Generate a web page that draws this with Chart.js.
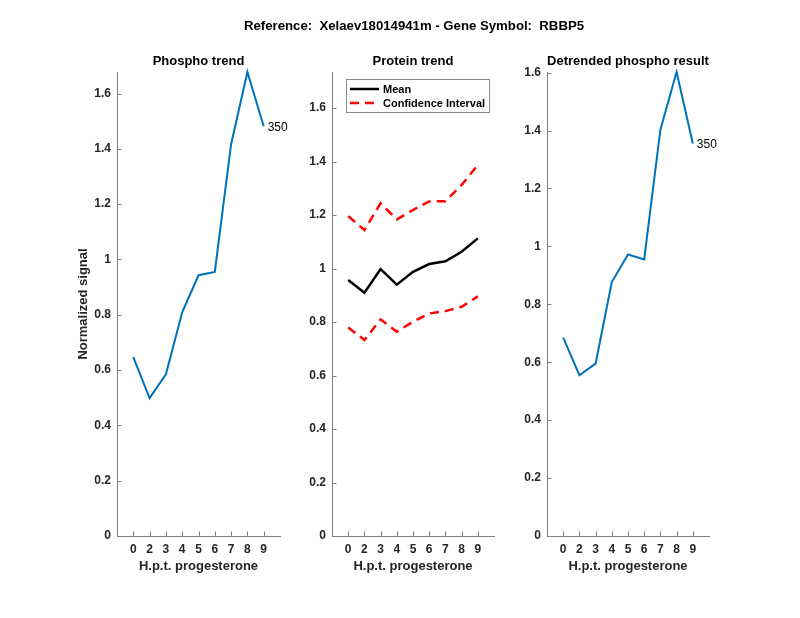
<!DOCTYPE html>
<html>
<head>
<meta charset="utf-8">
<script src="https://cdn.jsdelivr.net/npm/chart.js@4.4.0/dist/chart.umd.min.js"></script>
<style>
  html, body { margin: 0; padding: 0; background: #fff; }
  #wrap { position: relative; width: 800px; height: 618px; overflow: hidden; }
  #wrap canvas { position: absolute; left: 0; top: 0; }
  #mainTitle { position: absolute; left: 14px; top: 18px; width: 800px; text-align: center; line-height: 16px;
    font: bold 13.2px "Liberation Sans", Arial, sans-serif; color: #000; white-space: pre; z-index: 5; }
</style>
</head>
<body>
<div id="wrap">
  <div id="mainTitle">Reference:  Xelaev18014941m - Gene Symbol:  RBBP5</div>
  <canvas id="c1" width="800" height="618"></canvas>
  <canvas id="c2" width="800" height="618"></canvas>
  <canvas id="c3" width="800" height="618"></canvas>
</div>
<script>
// ---- data ----
const hours = ['0', '2', '3', '4', '5', '6', '7', '8', '9'];
const phospho = [0.647, 0.499, 0.585, 0.809, 0.943, 0.955, 1.417, 1.678, 1.482];
const proteinMean = [0.957, 0.910, 0.998, 0.940, 0.988, 1.017, 1.027, 1.063, 1.113];
const ciUpper = [1.196, 1.144, 1.244, 1.184, 1.219, 1.251, 1.252, 1.312, 1.387];
const ciLower = [0.780, 0.733, 0.810, 0.764, 0.801, 0.832, 0.841, 0.857, 0.896];
const detrended = [0.685, 0.555, 0.595, 0.877, 0.972, 0.955, 1.403, 1.602, 1.355];
const yTicks = [0, 0.2, 0.4, 0.6, 0.8, 1, 1.2, 1.4, 1.6];
const legendLabels = ['Mean', 'Confidence Interval'];
const endLabel = '350';

const FONT = '"Liberation Sans", Arial, Helvetica, sans-serif';
const TXT = '#262626';
const AXC = '#808080';

function pts(arr) { return arr.map((v, i) => ({ x: i, y: v })); }

const annot = {
  id: 'annot',
  afterDraw(chart, args, o) {
    const ctx = chart.ctx, ca = chart.chartArea;
    const xs = chart.scales.x, ys = chart.scales.y;
    ctx.save();
    // inward tick marks
    ctx.strokeStyle = AXC; ctx.lineWidth = 1;
    ctx.beginPath();
    xs.ticks.forEach(t => {
      const px = Math.round(xs.getPixelForValue(t.value)) + 0.5;
      ctx.moveTo(px, ca.bottom); ctx.lineTo(px, ca.bottom - 4.5);
    });
    ys.ticks.forEach(t => {
      const py = Math.round(ys.getPixelForValue(t.value)) + 0.5;
      ctx.moveTo(ca.left, py); ctx.lineTo(ca.left + 4.5, py);
    });
    ctx.stroke();
    // subplot title
    ctx.fillStyle = '#000';
    ctx.font = 'bold 13px ' + FONT;
    ctx.textAlign = 'center'; ctx.textBaseline = 'middle';
    ctx.fillText(o.title, (ca.left + ca.right) / 2, 61);
    // x title
    ctx.fillStyle = TXT;
    ctx.fillText('H.p.t. progesterone', (ca.left + ca.right) / 2, 566);
    // y title
    if (o.ytitle) {
      ctx.save();
      ctx.translate(ca.left - 34, (ca.top + ca.bottom) / 2);
      ctx.rotate(-Math.PI / 2);
      ctx.fillText(o.ytitle, 0, 0);
      ctx.restore();
    }
    // end label
    if (o.endLabel) {
      const meta = chart.getDatasetMeta(0);
      const last = meta.data[meta.data.length - 1];
      ctx.font = '12px ' + FONT;
      ctx.fillStyle = '#000';
      ctx.textAlign = 'left';
      ctx.fillText(o.endLabel, last.x + 4, last.y + 1);
    }
    // legend
    if (o.legend) {
      const bx = 346, by = 79, bw = 143, bh = 33;
      ctx.fillStyle = '#fff';
      ctx.fillRect(bx, by, bw, bh);
      ctx.strokeStyle = '#8c8c8c'; ctx.lineWidth = 1;
      ctx.strokeRect(bx + 0.5, by + 0.5, bw, bh);
      const styleIdx = [0, 1];
      o.legend.forEach((lab, k) => {
        const ds = chart.data.datasets[styleIdx[k]];
        const yy = by + 10 + k * 14;
        ctx.strokeStyle = ds.borderColor; ctx.lineWidth = ds.borderWidth;
        ctx.setLineDash(ds.borderDash || []);
        ctx.beginPath(); ctx.moveTo(bx + 4, yy); ctx.lineTo(bx + 33, yy); ctx.stroke();
        ctx.setLineDash([]);
        ctx.fillStyle = '#000';
        ctx.font = 'bold 11px ' + FONT;
        ctx.textAlign = 'left'; ctx.textBaseline = 'middle';
        ctx.fillText(lab, bx + 37, yy + 0.5);
      });
    }
    ctx.restore();
  }
};

function makeChart(id, left, right, ymax, datasets, opts) {
  new Chart(document.getElementById(id), {
    type: 'line',
    data: { datasets },
    options: {
      responsive: false,
      animation: false,
      devicePixelRatio: 1,
      layout: { padding: { left: left - 40, right: 800 - right, top: 72, bottom: 618 - 536 - 40 } },
      elements: { point: { radius: 0 }, line: { tension: 0 } },
      plugins: { legend: { display: false }, tooltip: { enabled: false }, title: { display: false },
        annot: opts },
      scales: {
        x: {
          type: 'linear', min: -1, max: 9,
          afterBuildTicks: s => { s.ticks = hours.map((h, i) => ({ value: i })); },
          afterFit: s => { s.height = 40; },
          grid: { display: false, drawTicks: false, tickLength: 0 },
          border: { display: true, color: AXC, width: 1 },
          ticks: { callback: v => hours[v], color: TXT, padding: 6, maxRotation: 0, autoSkip: false,
            font: { family: FONT, size: 12, weight: 'bold' } }
        },
        y: {
          type: 'linear', min: 0, max: ymax,
          afterBuildTicks: s => { s.ticks = yTicks.map(v => ({ value: v })); },
          afterFit: s => { s.width = 40; },
          grid: { display: false, drawTicks: false, tickLength: 0 },
          border: { display: true, color: AXC, width: 1 },
          ticks: { callback: v => String(+v.toFixed(1)), color: TXT, padding: 6, autoSkip: false,
            font: { family: FONT, size: 12, weight: 'bold' } }
        }
      }
    },
    plugins: [annot]
  });
}

makeChart('c1', 117, 280, 1.678, [
  { label: 'Phospho', data: pts(phospho), borderColor: '#0072BD', borderWidth: 2, clip: 4 }
], { title: 'Phospho trend', ytitle: 'Normalized signal', endLabel });

makeChart('c2', 332, 494, 1.735, [
  { label: legendLabels[0], data: pts(proteinMean), borderColor: '#000000', borderWidth: 2.5, clip: 4 },
  { label: legendLabels[1], data: pts(ciUpper), borderColor: '#FF0000', borderWidth: 2.5, borderDash: [9, 6], clip: 4 },
  { label: legendLabels[1], data: pts(ciLower), borderColor: '#FF0000', borderWidth: 2.5, borderDash: [9, 6], clip: 4 }
], { title: 'Protein trend', legend: legendLabels });

makeChart('c3', 547, 709, 1.602, [
  { label: 'Detrended', data: pts(detrended), borderColor: '#0072BD', borderWidth: 2, clip: 4 }
], { title: 'Detrended phospho result', endLabel });
</script>
</body>
</html>
